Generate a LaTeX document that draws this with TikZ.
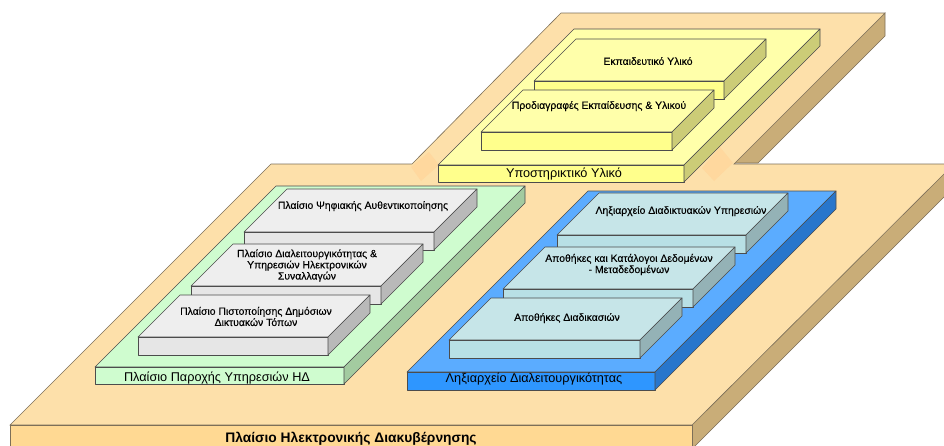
\documentclass[tikz,border=0pt]{standalone}
\usepackage{fontspec}
\setmainfont{Liberation Sans}
\newfontfamily\labelfont[FakeBold=0.2]{Liberation Sans}
\definecolor{basetop}{HTML}{FDE0AA}
\definecolor{basefront}{HTML}{FFD993}
\definecolor{baseside}{HTML}{C9AD78}
\definecolor{baseedge}{HTML}{7D6F58}
\definecolor{basejoin}{HTML}{FFD89E}
\definecolor{yellowtop}{HTML}{FFFFAA}
\definecolor{yellowfront}{HTML}{FFFF8C}
\definecolor{yellowside}{HTML}{CCCC77}
\definecolor{greentop}{HTML}{CFFCCF}
\definecolor{greenside}{HTML}{A3CBA0}
\definecolor{graytop}{HTML}{EEEEEE}
\definecolor{grayfront}{HTML}{E6E6E6}
\definecolor{grayside}{HTML}{B9B9B9}
\definecolor{bluetop}{HTML}{5BACFF}
\definecolor{bluefront}{HTML}{2E96FF}
\definecolor{blueside}{HTML}{2876CC}
\definecolor{tealtop}{HTML}{C6E5E8}
\definecolor{tealfront}{HTML}{B8E0E5}
\definecolor{tealside}{HTML}{94B2B6}
\tikzset{
  slabline/.style={draw=black!70,line width=0.6pt,line join=round},
  smalltext/.style={font=\labelfont\fontsize{10.4}{11.2}\selectfont,align=center,inner sep=0pt},
  largetext/.style={font=\fontsize{12.7}{14}\selectfont,inner sep=0pt},
}
% front left corner, width, depth, height, colours of top, front and side
\newcommand{\slab}[8]{
  \path[slabline,fill=#6] (#1,#2) -- ++(#4,-#4) -- ++(#3,0) -- ++(-#4,#4) -- cycle;
  \path[slabline,fill=#7] (#1,#2) rectangle ++(#3,#5);
  \path[slabline,fill=#8] (#1,#2) ++(#3,0) -- ++(#4,-#4) -- ++(0,#5) -- ++(-#4,#4) -- cycle;
}
\begin{document}
\begin{tikzpicture}[x=1pt,y=-1pt]
\clip (0,0) rectangle (944,445);

% base
\path[draw=baseedge,line width=0.6pt,fill=baseside] (885,13) -- (885,36) -- (758,163) -- (733,163) -- cycle;
\path[draw=baseedge,line width=0.6pt,fill=baseside] (692,425) -- (954,163) -- (978,163) -- (692,449) -- cycle;
\path[draw=baseedge,line width=0.6pt,fill=basetop] (271,164) -- (412,164) -- (561,13) -- (885,13) -- (734,164) -- (954,164) -- (692,425) -- (10,425) -- cycle;
\path[draw=baseedge,line width=0.6pt,fill=basefront] (10,425) rectangle (692,449);
\fill[basejoin] (429,152) -- (439,165) -- (421,181) -- (411,167) -- cycle;
\fill[basejoin] (720,147) -- (733,163) -- (714,181) -- (702,168) -- cycle;

% support material
\slab{438}{165}{246}{136}{17}{yellowtop}{yellowfront}{yellowside}
\slab{534}{81}{190}{42}{18}{yellowtop}{yellowfront}{yellowside}
\slab{481}{132}{191}{42}{18}{yellowtop}{yellowfront}{yellowside}

% services
\slab{95}{367}{249}{181}{17}{greentop}{greentop}{greenside}
\slab{244}{232}{190}{43}{18}{graytop}{grayfront}{grayside}
\slab{191}{286}{190}{42}{18}{graytop}{grayfront}{grayside}
\slab{138}{337}{190}{42}{18}{graytop}{grayfront}{grayside}

% registry
\slab{407}{372}{248}{181}{18}{bluetop}{bluefront}{blueside}
\slab{557}{235}{189}{42}{18}{tealtop}{tealfront}{tealside}
\slab{503}{289}{190}{42}{18}{tealtop}{tealfront}{tealside}
\slab{449}{340}{191}{42}{18}{tealtop}{tealfront}{tealside}

\node[smalltext] (material) at (648,61) {Εκπαιδευτικό Υλικό};
\node[smalltext] (specs) at (599,106) {Προδιαγραφές Εκπαίδευσης \& Υλικού};
\node[largetext] (support) at (564,174) {Υποστηρικτικό Υλικό};

\node[smalltext] (auth) at (363,206) {Πλαίσιο Ψηφιακής Αυθεντικοποίησης};
\node[smalltext] (interop) at (307,265.5) {Πλαίσιο Διαλειτουργικότητας \&\\Υπηρεσιών Ηλεκτρονικών\\Συναλλαγών};
\node[smalltext] (sites) at (256,316.5) {Πλαίσιο Πιστοποίησης Δημόσιων\\Δικτυακών Τόπων};
\node[largetext] (services) at (217,378) {Πλαίσιο Παροχής Υπηρεσιών ΗΔ};

\node[smalltext] (webreg) at (681,211) {Ληξιαρχείο Διαδικτυακών Υπηρεσιών};
\node[smalltext] (data) at (629,264.5) {Αποθήκες και Κατάλογοι Δεδομένων\\- Μεταδεδομένων};
\node[smalltext] (proc) at (567,318) {Αποθήκες Διαδικασιών};
\node[largetext] (registry) at (534,379) {Ληξιαρχείο Διαλειτουργικότητας};

\node[largetext,font=\fontsize{13.8}{14}\selectfont\bfseries] (egov) at (351,439) {Πλαίσιο Ηλεκτρονικής Διακυβέρνησης};
\end{tikzpicture}
\end{document}
